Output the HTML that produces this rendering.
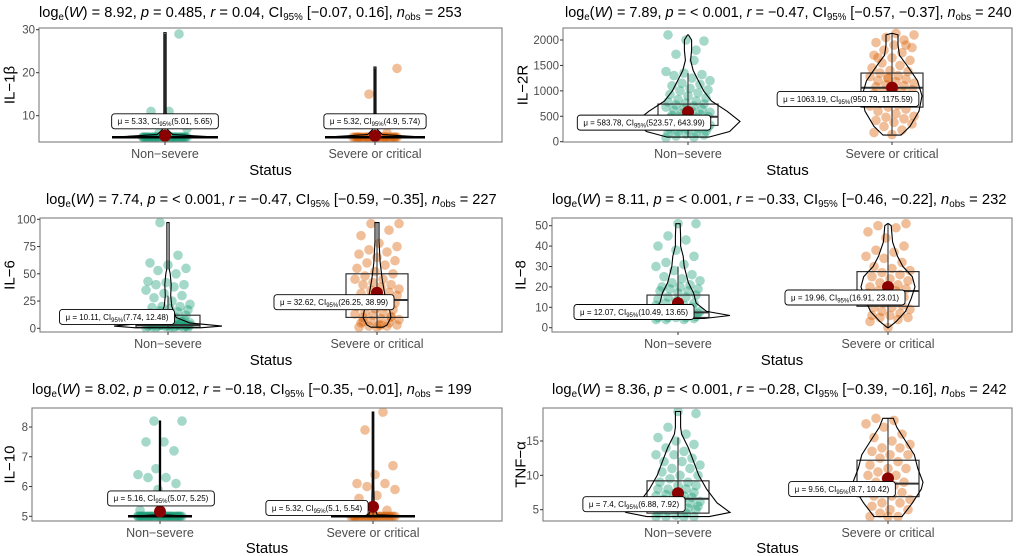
<!DOCTYPE html>
<html><head><meta charset="utf-8">
<style>
html,body{margin:0;padding:0;background:#fff;}
svg{display:block;font-family:"Liberation Sans",Arial,sans-serif;}
</style></head>
<body>
<svg id="chart" width="1020" height="556" viewBox="0 0 1020 556"></svg>
<script>
// ---------- data ----------
const categories = ["Non\u2212severe", "Severe or critical"];
const yTitles = ["IL\u22121\u03b2", "IL\u22122R", "IL\u22126", "IL\u22128", "IL\u221210", "TNF\u2212\u03b1"];
const statW = ["8.92", "7.89", "7.74", "8.11", "8.02", "8.36"];
const statP = ["0.485", "< 0.001", "< 0.001", "< 0.001", "0.012", "< 0.001"];
const statR = ["0.04", "\u22120.47", "\u22120.47", "\u22120.33", "\u22120.18", "\u22120.28"];
const statCI = ["[\u22120.07, 0.16]", "[\u22120.57, \u22120.37]", "[\u22120.59, \u22120.35]", "[\u22120.46, \u22120.22]", "[\u22120.35, \u22120.01]", "[\u22120.39, \u22120.16]"];
const statN = ["253", "240", "227", "232", "199", "242"];

const yTicks = [[10,20,30],[0,500,1000,1500,2000],[0,25,50,75,100],[0,10,20,30,40,50],[5,6,7,8],[5,10,15]];

const meansA = [5.33, 583.78, 10.11, 12.07, 5.16, 7.4];
const meansB = [5.32, 1063.19, 32.62, 19.96, 5.32, 9.56];
const ciA = [["5.01","5.65"],["523.57","643.99"],["7.74","12.48"],["10.49","13.65"],["5.07","5.25"],["6.88","7.92"]];
const ciB = [["4.9","5.74"],["950.79","1175.59"],["26.25","38.99"],["16.91","23.01"],["5.1","5.54"],["8.7","10.42"]];
const meanTextA = ["5.33","583.78","10.11","12.07","5.16","7.4"];
const meanTextB = ["5.32","1063.19","32.62","19.96","5.32","9.56"];

// box stats [whiskerLow, q1, median, q3, whiskerHigh]
const boxA = [[5,5,5,5,29],[100,320,490,740,1350],[0.5,1,3,12,30],[4,5,7.5,16,30],[5,5,5,5,8.2],[4,4.5,6.6,9.2,15.5]];
const boxB = [[5,5,5,5,21],[150,680,1060,1350,2130],[1,10,26,50,97],[0,10.5,18,27.5,51],[5,5,5,5,8.5],[4,6.9,8.8,12.2,18.3]];

// violin profiles: values and relative density widths
const violinAVals = [[5,5.6,7,11,20,29.3],[90,200,400,600,800,1000,1200,1400,1600,1800,2000,2100],[0.5,2,5,10,20,30,40,50,55,60,97],[4.5,6,8,12,17,22,30,35,40,45,51],[5,5.05,5.3,6,8.2],[4,4.6,6,8,10,12,14,16,17,19.3]];
const violinADens = [[1,0.15,0.03,0.02,0.02,0.02],[0.4,0.8,1,0.75,0.45,0.3,0.2,0.1,0.05,0.07,0.07,0.01],[0.6,1,0.4,0.15,0.07,0.05,0.06,0.04,0.02,0.02,0.02],[0.5,1,0.55,0.35,0.3,0.2,0.12,0.1,0.05,0.05,0.04],[1,0.1,0.03,0.02,0.02],[0.6,1,0.75,0.55,0.4,0.3,0.2,0.07,0.05,0.05]];
const violinBVals = [[5,5.6,7,11,15,21.3],[130,300,600,900,1200,1500,1700,1900,2100,2130],[1,3,10,20,30,45,60,80,97],[0,3,8,14,20,25,30,35,42,50,51],[5,5.05,5.3,6,8.5],[4,6,8,9,11,13,15,17,18.3]];
const violinBDens = [[1,0.15,0.03,0.02,0.02,0.02],[0.3,0.6,0.9,1,0.85,0.5,0.25,0.2,0.2,0.02],[0.15,0.25,0.35,0.3,0.2,0.13,0.08,0.05,0.05],[0.02,0.3,0.65,0.85,1,0.9,0.55,0.35,0.17,0.12,0.02],[1,0.1,0.03,0.02,0.02],[0.4,0.7,0.95,1,0.85,0.75,0.5,0.25,0.15]];

const pointsA = [
 [5,5,5,5,5,5,5,5,5,5,5,5,5,5,5,5,5,5,5,5,5,5,5,5,5,5,5,5,5,5,5,5,5,5,5,5,5,5,5,5,6,7,11,11,29],
 [80,90,110,130,150,170,180,200,210,230,250,260,270,280,300,300,310,320,330,340,350,360,370,380,390,400,400,410,420,430,440,450,460,470,480,490,500,510,520,540,560,580,600,620,640,660,680,700,720,740,760,780,800,830,860,900,930,960,1000,1020,1050,1100,1130,1150,1200,1250,1300,1320,1350,1380,1600,1720,1980,2000,2100,1800],
 [0.5,1,1,1,1.5,2,2,2,2,2.5,3,3,3,3,3.5,4,4,4,5,5,5,6,6,7,7,8,8,9,10,10,11,12,13,14,15,16,17,18,19,20,20,22,25,28,30,32,35,38,40,40,42,43,50,53,55,58,60,67,97,0.5,1,1.5,2,2.5,3,4,5,6,8],
 [4,4,4,4.5,5,5,5,5,5.5,6,6,6,6.5,7,7,7,8,8,8,9,9,10,10,11,11,12,12,13,14,15,15,16,17,18,18,19,19,20,20,21,22,23,24,25,26,28,30,31,32,35,38,40,43,45,51,51],
 [5,5,5,5,5,5,5,5,5,5,5,5,5,5,5,5,5,5,5,5,5,5,5,5,5,5,5,5,5,5,5,5,5,5,5,5,5,5,5,5,8.2,8.2,7.5,7.5,7.2,6.6,6.4,6.3,6.3,6.1,5.9,5.2],
 [4,4,4,4,4.2,4.5,4.5,4.8,5,5,5,5.2,5.5,5.5,5.8,6,6,6,6.2,6.5,6.5,6.8,7,7,7,7.2,7.5,7.5,8,8,8,8.5,8.5,9,9,9.5,10,10,10.5,11,11,11.5,12,12,12.5,13,13,13.5,14,14.5,15,15.5,16,17,19,19.3]
];
const pointsB = [
 [5,5,5,5,5,5,5,5,5,5,5,5,5,5,5,5,5,5,5,5,5,5,5,5,5,5,5,5,5,5,6,15,21],
 [140,180,230,300,350,380,420,450,480,500,550,600,640,680,700,720,750,780,800,820,850,880,900,930,950,980,1000,1020,1050,1080,1100,1120,1150,1180,1200,1230,1250,1280,1300,1350,1380,1400,1450,1500,1550,1600,1650,1700,1750,1800,1850,1900,1950,2000,2050,2100,2130,1650,1900,1250],
 [1,1,2,2,3,3,5,5,7,8,9,10,10,12,13,15,15,17,18,20,20,22,23,25,26,27,28,30,30,32,33,35,36,38,40,40,42,45,45,48,50,52,55,58,60,62,65,68,70,72,75,78,85,90,96,96,3,6,11,24],
 [0,3,4,5,5,6,6,7,8,9,10,10,11,12,13,14,15,15,16,17,18,18,19,20,20,21,22,23,24,25,26,27,28,29,30,32,34,35,37,38,40,44,47,49,50,51],
 [5,5,5,5,5,5,5,5,5,5,5,5,5,5,5,5,5,5,5,5,5,5,5,5,5,8.5,7.9,6.7,6.4,6.1,6.1,6.0,5.9,5.7,5.6,5.2],
 [4,4,4,4.5,5,5,5.5,6,6,6.5,7,7,7.5,8,8,8.5,9,9,9.5,10,10,10.5,11,11,11.5,12,12.5,13,13,13.5,14,14,14.5,15,15.5,16,17,17.5,18,18.3]
];
// label anchor values (y value of mean label centre)
const labelValA = [8.7, 375, 10.4, 7.7, 5.6, 5.8];
const labelValB = [8.7, 840, 24, 14.8, 5.28, 8];

// ---------- layout (pixel geometry) ----------
const layout = [
 {L:39,R:502,T:28,B:142,v0:10,p0:115.7,v1:30,p1:29.7,cx:[165,375],lx:[165,375],vwA:53,vwB:50,bw:[0,0],titleX:39,titleW:423,titleY:17,ytX:10,xlY:158,stY:175},
 {L:563,R:1012,T:28,B:142,v0:0,p0:141.7,v1:2000,p1:40,cx:[688,892],lx:[644,848],vwA:52,vwB:30,bw:[30,31],titleX:565,titleW:447,titleY:17,ytX:523,xlY:158,stY:175},
 {L:40,R:502,T:218,B:332,v0:0,p0:328.3,v1:100,p1:219.3,cx:[168,377],lx:[117,334],vwA:54,vwB:40,bw:[32,31],titleX:46,titleW:451,titleY:204,ytX:10,xlY:348,stY:365},
 {L:552,R:1012,T:218,B:332,v0:0,p0:327.7,v1:50,p1:225.7,cx:[678,888],lx:[634,845],vwA:52,vwB:27,bw:[31,31],titleX:552,titleW:455,titleY:204,ytX:521,xlY:348,stY:365},
 {L:32,R:502,T:408,B:521,v0:5,p0:516.3,v1:8,p1:427,cx:[160,373],lx:[161,317],vwA:32,vwB:42,bw:[0,0],titleX:32,titleW:440,titleY:394,ytX:10,xlY:537,stY:553},
 {L:543,R:1012,T:408,B:521,v0:5,p0:509.7,v1:15,p1:441,cx:[678,888],lx:[634,842],vwA:52,vwB:35,bw:[31,31],titleX:552,titleW:455,titleY:394,ytX:521,xlY:537,stY:553}
];

const NS = "http://www.w3.org/2000/svg";
const svg = document.getElementById("chart");
function mk(tag, attrs, parent){
  const e = document.createElementNS(NS, tag);
  for (const k in attrs) e.setAttribute(k, attrs[k]);
  (parent || svg).appendChild(e);
  return e;
}
const colA = "#1B9E77", colB = "#D95F02";

for (let i = 0; i < 6; i++) {
  const g = layout[i];
  const yScale = v => g.p0 + (v - g.v0) * (g.p1 - g.p0) / (g.v1 - g.v0);
  const grp = mk("g", {});
  
  
  const clipId = "clip" + i;
  const cp = mk("clipPath", {id: clipId}, grp);
  mk("rect", {x: g.L, y: g.T, width: g.R - g.L, height: g.B - g.T}, cp);

  // title
  const t = mk("text", {x: g.titleX, y: g.titleY, "font-size": 15, fill: "#000"}, grp);
  
  
  t.innerHTML = 'log<tspan font-size="10" dy="3">e</tspan><tspan dy="-3">(</tspan><tspan font-style="italic">W</tspan>) = ' + statW[i] +
    ', <tspan font-style="italic">p</tspan> = ' + statP[i] + ', <tspan font-style="italic">r</tspan> = ' + statR[i] +
    ', CI<tspan font-size="10" dy="3">95%</tspan><tspan dy="-3"> ' + statCI[i] + ', </tspan><tspan font-style="italic">n</tspan><tspan font-size="10" dy="3">obs</tspan><tspan dy="-3"> = ' + statN[i] + '</tspan>';
  const tw = t.getBBox().width;
  if (tw > 0) {
    const s = g.titleW / tw;
    t.setAttribute("transform", "translate(" + g.titleX + " " + g.titleY + ") scale(" + s + " 1) translate(" + (-g.titleX) + " " + (-g.titleY) + ")");
  }

  // plot content clipped
  const plot = mk("g", {"clip-path": "url(#" + clipId + ")"}, grp);
  const groups = [
    {pts: pointsA[i], col: colA, vv: violinAVals[i], vd: violinADens[i], vw: g.vwA, box: boxA[i], mean: meansA[i], mt: meanTextA[i], ci: ciA[i], lv: labelValA[i]},
    {pts: pointsB[i], col: colB, vv: violinBVals[i], vd: violinBDens[i], vw: g.vwB, box: boxB[i], mean: meansB[i], mt: meanTextB[i], ci: ciB[i], lv: labelValB[i]}
  ];
  groups.forEach((gr, k) => {
    const cx = g.cx[k];
    gr.pts.forEach((v, j) => {
      const jit = (((j * 37 + k * 11) % 23) - 11) / 11 * 22;
      const c = mk("circle", {cx: cx + jit, cy: yScale(v), r: 4.8, fill: gr.col, "fill-opacity": 0.4}, plot);
      
      
    });
    const b = gr.box;
    const bx = g.bw[k];
    const line = mk("line", {x1: cx, x2: cx, y1: yScale(b[0]), y2: yScale(b[4]), stroke: "#333", "stroke-width": 1.1}, plot);
    
    
    if (bx > 0) {
      const r = mk("rect", {x: cx - bx, y: yScale(b[3]), width: 2 * bx, height: yScale(b[1]) - yScale(b[3]), fill: "none", stroke: "#333", "stroke-width": 1.2}, plot);
      
      
      const m = mk("line", {x1: cx - bx, x2: cx + bx, y1: yScale(b[2]), y2: yScale(b[2]), stroke: "#333", "stroke-width": 2}, plot);
      
      
    }
    let d = "";
    gr.vv.forEach((v, j) => { d += (j ? "L" : "M") + (cx + gr.vd[j] * gr.vw).toFixed(1) + "," + yScale(v).toFixed(1); });
    for (let j = gr.vv.length - 1; j >= 0; j--) d += "L" + (cx - gr.vd[j] * gr.vw).toFixed(1) + "," + yScale(gr.vv[j]).toFixed(1);
    d += "Z";
    const vp = mk("path", {d: d, fill: "none", stroke: "#000", "stroke-width": 1.1}, plot);
    
    
    if (i === 0 || i === 4) {
      const fl = mk("line", {x1: cx - gr.vw, x2: cx + gr.vw, y1: yScale(5), y2: yScale(5), stroke: "#000", "stroke-width": 2.5}, plot);
      
      
    }
    const mp = mk("circle", {cx: cx, cy: yScale(gr.mean), r: 6, fill: "#8B0000"}, plot);
    
    
    const lg = mk("g", {}, grp);
    
    
    const rect = mk("rect", {rx: 3, ry: 3, fill: "#fff", stroke: "#000", "stroke-width": 0.9}, lg);
    const tx = mk("text", {x: g.lx[k], y: yScale(gr.lv) + 2.8, "font-size": 8, "text-anchor": "middle", fill: "#000"}, lg);
    tx.innerHTML = '\u03bc = ' + gr.mt + ', CI<tspan font-size="6" dy="2">95%</tspan><tspan dy="-2">(' + gr.ci[0] + ', ' + gr.ci[1] + ')</tspan>';
    const w = tx.getComputedTextLength() + 12;
    rect.setAttribute("x", g.lx[k] - w / 2);
    rect.setAttribute("y", yScale(gr.lv) - 7.5);
    rect.setAttribute("width", w);
    rect.setAttribute("height", 15);
  });

  const fr = mk("rect", {x: g.L, y: g.T, width: g.R - g.L, height: g.B - g.T, fill: "none", stroke: "#7f7f7f", "stroke-width": 1.1}, grp);
  
  

  yTicks[i].forEach(v => {
    const y = yScale(v);
    mk("line", {x1: g.L - 3, x2: g.L, y1: y, y2: y, stroke: "#333", "stroke-width": 1}, grp);
    const tl = mk("text", {x: g.L - 4, y: y + 4, "font-size": 11.5, "text-anchor": "end", fill: "#4d4d4d"}, grp);
    
    
    tl.textContent = v;
  });
  categories.forEach((c, k) => {
    mk("line", {x1: g.cx[k], x2: g.cx[k], y1: g.B, y2: g.B + 3, stroke: "#333", "stroke-width": 1}, grp);
    const xl = mk("text", {x: g.cx[k], y: g.xlY, "font-size": 12.5, "text-anchor": "middle", fill: "#4d4d4d"}, grp);
    
    
    xl.textContent = c;
  });
  const xt = mk("text", {x: (g.L + g.R) / 2, y: g.stY, "font-size": 15, "text-anchor": "middle", fill: "#000"}, grp);
  
  
  xt.textContent = "Status";
  const cy = (g.T + g.B) / 2;
  const yt = mk("text", {x: g.ytX, y: cy, "font-size": 15, "text-anchor": "middle", "dominant-baseline": "central", fill: "#000", transform: "rotate(-90 " + g.ytX + " " + cy + ")"}, grp);
  
  
  yt.textContent = yTitles[i];
}
</script>
</body></html>
